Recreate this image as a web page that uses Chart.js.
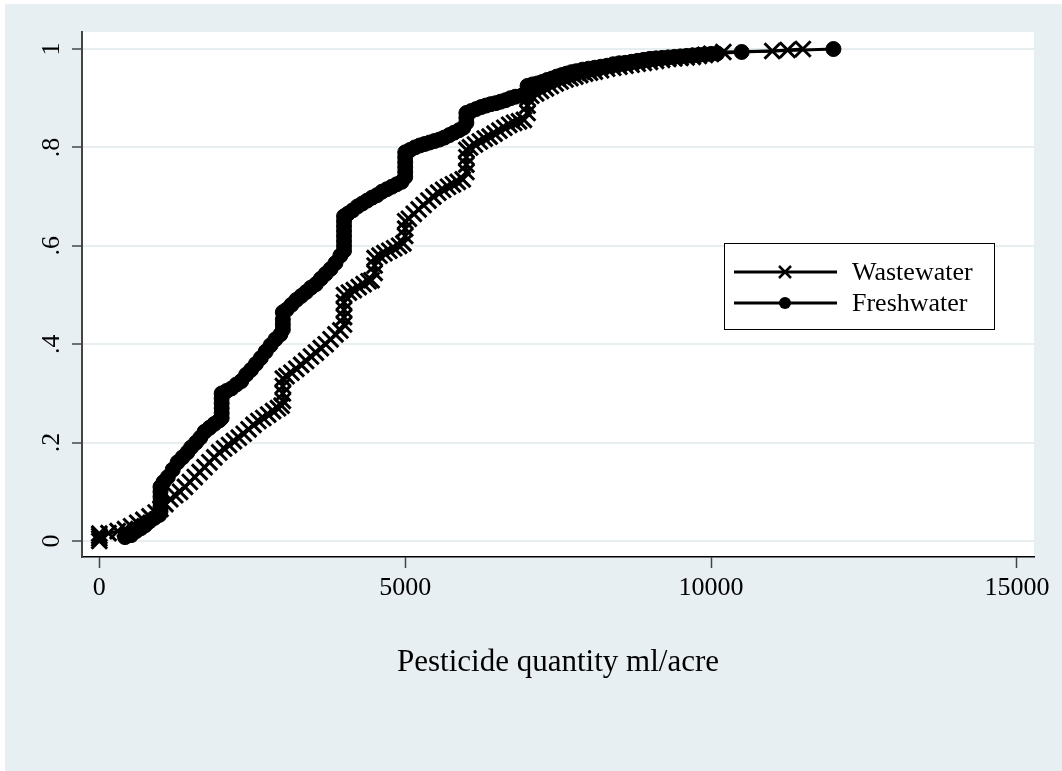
<!DOCTYPE html>
<html>
<head>
<meta charset="utf-8">
<title>Pesticide quantity</title>
<script src="https://cdn.jsdelivr.net/npm/chart.js@4.4.1/dist/chart.umd.min.js"></script>
<style>
  html, body { margin: 0; padding: 0; background: #fff; }
  canvas { display: block; }
</style>
</head>
<body>
<canvas id="chart" width="1062" height="771"></canvas>
<script>
// cumulative share vs pesticide quantity (ml/acre)
// each entry is [quantity, cumulative share]
const wastewater = [
  [0, 0.0], [0, 0.005], [0, 0.01], [0, 0.015],
  [150, 0.016], [300, 0.02], [420, 0.024], [520, 0.03], [620, 0.037], [720, 0.043], [820, 0.05], [920, 0.058],
  [1000, 0.065], [1080, 0.075], [1160, 0.085], [1240, 0.093], [1320, 0.1], [1400, 0.11], [1480, 0.12],
  [1560, 0.13], [1640, 0.14], [1720, 0.15], [1800, 0.16], [1880, 0.17], [1960, 0.18], [2040, 0.188],
  [2120, 0.195], [2200, 0.203], [2280, 0.21], [2360, 0.218], [2440, 0.227], [2520, 0.236], [2600, 0.244],
  [2680, 0.25], [2760, 0.257], [2840, 0.264], [2920, 0.27], [2980, 0.275],
  [3000, 0.285], [3000, 0.3], [3000, 0.315], [3000, 0.33],
  [3060, 0.335], [3140, 0.342], [3220, 0.35], [3300, 0.358], [3380, 0.366], [3460, 0.375], [3540, 0.383],
  [3620, 0.392], [3700, 0.4], [3780, 0.41], [3860, 0.42], [3940, 0.428],
  [4000, 0.44], [4000, 0.455], [4000, 0.47], [4000, 0.485], [4000, 0.5],
  [4080, 0.505], [4160, 0.51], [4240, 0.516], [4320, 0.522], [4400, 0.528], [4450, 0.53],
  [4500, 0.545], [4500, 0.56], [4500, 0.575],
  [4580, 0.58], [4660, 0.585], [4740, 0.59], [4820, 0.595], [4900, 0.6], [4970, 0.605],
  [5000, 0.62], [5000, 0.635], [5000, 0.65],
  [5060, 0.655], [5140, 0.665], [5220, 0.674], [5300, 0.683], [5380, 0.692], [5460, 0.7], [5540, 0.708],
  [5620, 0.714], [5700, 0.72], [5780, 0.725], [5860, 0.73], [5940, 0.735],
  [6000, 0.75], [6000, 0.765], [6000, 0.78], [6000, 0.795],
  [6060, 0.8], [6140, 0.806], [6220, 0.812], [6300, 0.818], [6380, 0.822], [6460, 0.828], [6540, 0.834],
  [6620, 0.84], [6700, 0.846], [6780, 0.85], [6860, 0.853], [6940, 0.856],
  [7000, 0.87], [7000, 0.885], [7000, 0.9],
  [7060, 0.905], [7140, 0.91], [7220, 0.915], [7300, 0.92], [7380, 0.925], [7460, 0.93], [7540, 0.934],
  [7620, 0.938], [7700, 0.941], [7780, 0.944], [7860, 0.947], [7940, 0.95], [8020, 0.952], [8100, 0.954],
  [8200, 0.957], [8300, 0.96], [8400, 0.962], [8500, 0.964], [8600, 0.966], [8700, 0.968], [8800, 0.97],
  [8900, 0.972], [9000, 0.974], [9100, 0.976], [9200, 0.978], [9300, 0.98], [9400, 0.981], [9500, 0.982],
  [9600, 0.983], [9700, 0.984], [9800, 0.986], [9900, 0.988], [10000, 0.99], [10200, 0.994],
  [11000, 0.996], [11250, 0.998], [11500, 1.0]
];

const freshwater = [
  [420, 0.008], [520, 0.012], [600, 0.02], [680, 0.026], [750, 0.032], [820, 0.04], [900, 0.047], [980, 0.053],
  [1000, 0.06], [1000, 0.07], [1000, 0.08], [1000, 0.09], [1000, 0.1], [1000, 0.11],
  [1050, 0.12], [1120, 0.13], [1200, 0.145], [1280, 0.16], [1360, 0.17], [1440, 0.18], [1500, 0.19],
  [1580, 0.2], [1650, 0.21], [1720, 0.222], [1800, 0.23], [1880, 0.238], [1960, 0.245],
  [2000, 0.25], [2000, 0.26], [2000, 0.27], [2000, 0.28], [2000, 0.29], [2000, 0.3],
  [2080, 0.305], [2160, 0.31], [2240, 0.318], [2320, 0.325], [2400, 0.338], [2480, 0.348], [2560, 0.36],
  [2640, 0.372], [2720, 0.385], [2800, 0.398], [2880, 0.41], [2960, 0.42],
  [3000, 0.43], [3000, 0.44], [3000, 0.45], [3000, 0.465],
  [3060, 0.47], [3140, 0.48], [3220, 0.49], [3300, 0.498], [3380, 0.506], [3460, 0.515], [3540, 0.522],
  [3620, 0.533], [3700, 0.543], [3780, 0.553], [3860, 0.565], [3940, 0.58],
  [4000, 0.59], [4000, 0.6], [4000, 0.61], [4000, 0.62], [4000, 0.63], [4000, 0.64], [4000, 0.65], [4000, 0.66],
  [4060, 0.665], [4140, 0.672], [4220, 0.68], [4300, 0.686], [4380, 0.692], [4460, 0.698], [4540, 0.703],
  [4620, 0.71], [4700, 0.715], [4780, 0.72], [4860, 0.725], [4940, 0.73],
  [5000, 0.74], [5000, 0.75], [5000, 0.76], [5000, 0.77], [5000, 0.78], [5000, 0.79],
  [5080, 0.795], [5160, 0.8], [5240, 0.804], [5320, 0.807], [5400, 0.81], [5480, 0.813], [5560, 0.816],
  [5640, 0.82], [5720, 0.825], [5800, 0.83], [5880, 0.835], [5950, 0.84],
  [6000, 0.85], [6000, 0.86], [6000, 0.87],
  [6080, 0.874], [6160, 0.878], [6240, 0.882], [6320, 0.885], [6400, 0.888], [6480, 0.89], [6560, 0.893],
  [6640, 0.896], [6720, 0.9], [6800, 0.903], [6900, 0.905], [6980, 0.908],
  [7000, 0.915], [7000, 0.925],
  [7080, 0.928], [7160, 0.93], [7240, 0.933], [7320, 0.937], [7400, 0.94], [7480, 0.944], [7560, 0.947],
  [7640, 0.95], [7720, 0.953], [7800, 0.955], [7900, 0.958], [8000, 0.96], [8100, 0.962], [8200, 0.964],
  [8300, 0.966], [8400, 0.969], [8500, 0.971], [8600, 0.972], [8700, 0.974], [8800, 0.976], [8900, 0.978],
  [9000, 0.98], [9100, 0.981], [9200, 0.982], [9300, 0.983], [9400, 0.984], [9500, 0.985], [9600, 0.986],
  [9700, 0.987], [9800, 0.988], [9900, 0.989], [10000, 0.99], [10100, 0.991], [10500, 0.994], [12000, 1.0]
];

const seriesNames = ['Wastewater', 'Freshwater'];
const xTicks = [0, 5000, 10000, 15000];
const yTicks = [0, 0.2, 0.4, 0.6, 0.8, 1];
const yTickLabels = ['0', '.2', '.4', '.6', '.8', '1'];
const xTitle = 'Pesticide quantity ml/acre';

const FONT = '"Liberation Serif", "Times New Roman", serif';
const BG = '#e8eff2';

// stata-like background: light panel, white plot region
const backdrop = {
  id: 'backdrop',
  beforeDraw(chart) {
    const { ctx, chartArea: a } = chart;
    ctx.save();
    ctx.fillStyle = '#fff';
    ctx.fillRect(0, 0, chart.width, chart.height);
    ctx.fillStyle = BG;
    ctx.fillRect(5, 4, chart.width - 5, chart.height - 4);
    ctx.fillStyle = '#fff';
    ctx.fillRect(a.left, a.top, a.right - a.left, a.bottom - a.top);
    ctx.restore();
  }
};

// y tick labels are rotated in the original, so draw them by hand
const yLabels = {
  id: 'yLabels',
  afterDraw(chart) {
    const { ctx } = chart;
    const ys = chart.scales.y;
    ctx.save();
    ctx.font = '26px ' + FONT;
    ctx.fillStyle = '#000';
    ctx.textAlign = 'center';
    ctx.textBaseline = 'middle';
    yTicks.forEach((v, i) => {
      const py = ys.getPixelForValue(v);
      ctx.save();
      ctx.translate(ys.left + 52, py);
      ctx.rotate(-Math.PI / 2);
      ctx.fillText(yTickLabels[i], 0, 0);
      ctx.restore();
    });
    ctx.restore();
  }
};

// boxed legend inside the plot, line + marker like stata
const boxLegend = {
  id: 'boxLegend',
  afterDraw(chart) {
    const { ctx } = chart;
    ctx.save();
    ctx.strokeStyle = '#000';
    ctx.lineWidth = 1;
    ctx.fillStyle = '#fff';
    ctx.fillRect(724, 243, 270, 86);
    ctx.strokeRect(724.5, 243.5, 270, 86);
    ctx.font = '26px ' + FONT;
    ctx.textBaseline = 'middle';
    ctx.textAlign = 'left';
    chart.data.datasets.forEach((ds, i) => {
      const y = 272 + i * 31;
      ctx.strokeStyle = '#000';
      ctx.lineWidth = 3;
      ctx.beginPath();
      ctx.moveTo(734, y);
      ctx.lineTo(837, y);
      ctx.stroke();
      ctx.fillStyle = '#000';
      if (ds.pointStyle === 'crossRot') {
        ctx.lineWidth = 2.5;
        ctx.beginPath();
        ctx.moveTo(779, y - 6); ctx.lineTo(791, y + 6);
        ctx.moveTo(791, y - 6); ctx.lineTo(779, y + 6);
        ctx.stroke();
      } else {
        ctx.beginPath();
        ctx.arc(785, y, 6, 0, Math.PI * 2);
        ctx.fill();
      }
      ctx.fillText(ds.label, 852, y + 1);
    });
    ctx.restore();
  }
};

const toXY = arr => arr.map(p => ({ x: p[0], y: p[1] }));

new Chart(document.getElementById('chart'), {
  type: 'line',
  data: {
    datasets: [
      {
        label: seriesNames[0],
        data: toXY(wastewater),
        borderColor: '#000',
        borderWidth: 3,
        pointStyle: 'crossRot',
        pointRadius: 11,
        pointBorderWidth: 3,
        pointBorderColor: '#000',
        pointBackgroundColor: '#000',
        tension: 0,
        order: 1
      },
      {
        label: seriesNames[1],
        data: toXY(freshwater),
        borderColor: '#000',
        borderWidth: 3,
        pointStyle: 'circle',
        pointRadius: 7.5,
        pointBorderWidth: 1,
        pointBorderColor: '#000',
        pointBackgroundColor: '#000',
        tension: 0,
        order: 0
      }
    ]
  },
  options: {
    responsive: false,
    animation: false,
    events: [],
    layout: { padding: { top: 32, right: 28, left: 0, bottom: 0 } },
    plugins: { legend: { display: false }, tooltip: { enabled: false } },
    scales: {
      x: {
        type: 'linear',
        min: -283,
        max: 15278,
        afterBuildTicks: s => { s.ticks = xTicks.map(v => ({ value: v })); },
        afterFit: s => { s.height = 214; },
        ticks: {
          color: '#000',
          font: { family: FONT, size: 26 },
          padding: 5,
          maxRotation: 0,
          callback: v => String(v)
        },
        grid: {
          drawOnChartArea: false,
          tickLength: 11,
          tickColor: '#444',
          tickWidth: 1.5
        },
        border: { color: '#000', width: 1.5 },
        title: {
          display: true,
          text: xTitle,
          color: '#000',
          font: { family: FONT, size: 31 },
          padding: { top: 0, bottom: 90 }
        }
      },
      y: {
        type: 'linear',
        min: -0.0325,
        max: 1.0346,
        afterBuildTicks: s => { s.ticks = yTicks.map(v => ({ value: v })); },
        afterFit: s => { s.width = 82; },
        ticks: { display: false },
        grid: {
          color: '#e6eef0',
          lineWidth: 2,
          tickLength: 10,
          tickColor: '#444',
          tickWidth: 1.5
        },
        border: { color: '#444', width: 2 }
      }
    }
  },
  plugins: [backdrop, yLabels, boxLegend]
});
</script>
</body>
</html>
